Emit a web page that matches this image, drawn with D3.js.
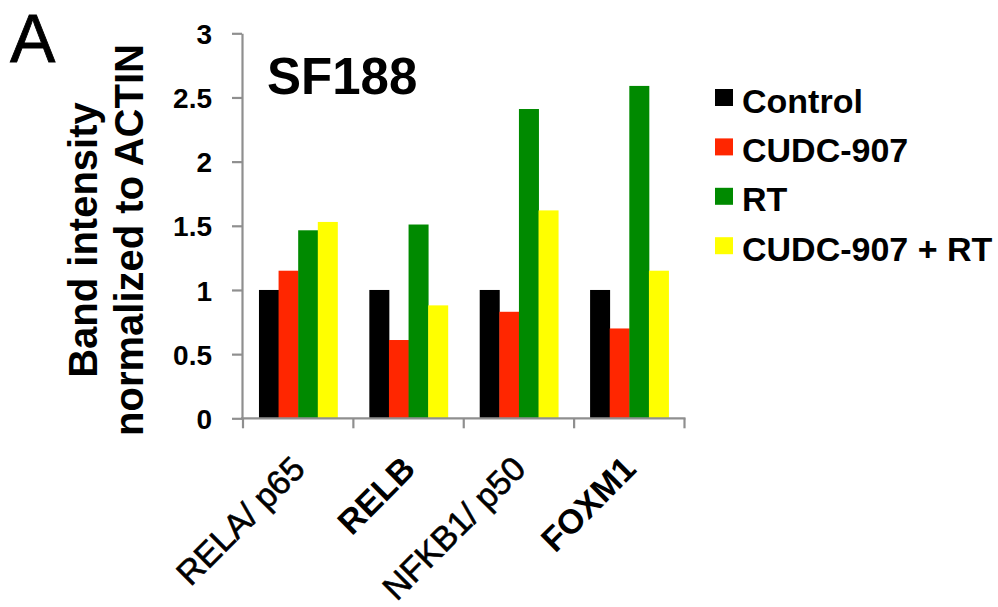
<!DOCTYPE html>
<html>
<head>
<meta charset="utf-8">
<script src="https://cdn.jsdelivr.net/npm/d3@7"></script>
<style>
  html, body { margin: 0; padding: 0; background: #fff; }
  svg { display: block; font-family: "Liberation Sans", Arial, Helvetica, sans-serif; }
</style>
</head>
<body>
<svg id="chart" width="998" height="607"></svg>
<script>
// ---- data ----
const categories = ["RELA/ p65", "RELB", "NFKB1/ p50", "FOXM1"];
const categoryBold = [false, true, false, true];
const seriesNames = ["Control", "CUDC-907", "RT", "CUDC-907 + RT"];
const seriesColors = ["#000000", "#ff2600", "#008a00", "#ffff00"];
const controlValues = [1, 1, 1, 1];
const cudcValues = [1.15, 0.61, 0.83, 0.70];
const rtValues = [1.465, 1.51, 2.41, 2.59];
const comboValues = [1.53, 0.88, 1.62, 1.15];
const yTicks = [0, 0.5, 1, 1.5, 2, 2.5, 3];
const yTickLabels = ["0", "0.5", "1", "1.5", "2", "2.5", "3"];
const yTitleLines = ["Band intensity", "normalized to ACTIN"];
const chartTitle = "SF188";
const panelLabel = "A";

const seriesValues = [controlValues, cudcValues, rtValues, comboValues];

// ---- layout ----
const svg = d3.select("#chart");
const plot = { left: 243, right: 684.5, top: 33.3, bottom: 418.3 };
const axisColor = "#8f8f8f";

const x = d3.scaleBand().domain(categories).range([plot.left, plot.right]).paddingInner(0).paddingOuter(0);
const xs = d3.scaleBand().domain(seriesNames).range([0, x.bandwidth()]).paddingInner(0).paddingOuter(0.814);
const y = d3.scaleLinear().domain([0, 3]).range([plot.bottom, plot.top]);

// bars
const rows = [];
categories.forEach((c, ci) => {
  seriesNames.forEach((s, si) => rows.push({ c, s, si, v: seriesValues[si][ci] }));
});
svg.append("g").selectAll("rect").data(rows).join("rect")
  .attr("x", d => x(d.c) + xs(d.s))
  .attr("width", xs.bandwidth() + 0.4)
  .attr("y", d => y(d.v))
  .attr("height", d => y(0) - y(d.v))
  .attr("fill", d => seriesColors[d.si]);

// y axis
const yAxis = svg.append("g")
  .attr("transform", `translate(${plot.left - 1},0)`)
  .call(d3.axisLeft(y).tickValues(yTicks).tickFormat((d, i) => yTickLabels[i]).tickSize(10).tickSizeOuter(0).tickPadding(20));
yAxis.select(".domain").attr("stroke", axisColor).attr("stroke-width", 2.2);
yAxis.selectAll(".tick line").attr("stroke", axisColor).attr("stroke-width", 2.2);
yAxis.selectAll(".tick text")
  .attr("fill", "#000").attr("font-size", 28).attr("font-weight", "bold")
  .attr("font-family", "'Liberation Sans', Arial, sans-serif").attr("dy", "0.36em");

// x axis line and ticks at category boundaries
const bounds = categories.map(c => x(c)).concat([x.range()[1]]);
const xAxisG = svg.append("g");
xAxisG.append("line")
  .attr("x1", plot.left - 2).attr("x2", plot.right + 1)
  .attr("y1", plot.bottom).attr("y2", plot.bottom)
  .attr("stroke", axisColor).attr("stroke-width", 2.2);
xAxisG.selectAll("line.tk").data(bounds).join("line").attr("class", "tk")
  .attr("x1", d => d).attr("x2", d => d)
  .attr("y1", plot.bottom).attr("y2", plot.bottom + 10)
  .attr("stroke", axisColor).attr("stroke-width", 2.2);

// x labels
svg.append("g").selectAll("text").data(categories).join("text")
  .attr("transform", d => `translate(${x(d) + x.bandwidth() / 2},${plot.bottom + 44}) rotate(-45)`)
  .attr("text-anchor", "end")
  .attr("dy", "0.36em")
  .attr("font-size", 34)
  .attr("font-weight", (d, i) => categoryBold[i] ? "bold" : "normal")
  .attr("stroke", (d, i) => categoryBold[i] ? "none" : "#000")
  .attr("stroke-width", 0.6)
  .text(d => d);

// y title
const yt = svg.append("text")
  .attr("transform", "translate(97,240) rotate(-90)")
  .attr("text-anchor", "middle")
  .attr("font-size", 40).attr("font-weight", "bold");
yt.selectAll("tspan").data(yTitleLines).join("tspan")
  .attr("x", 0).attr("dy", (d, i) => i === 0 ? 0 : 46)
  .text(d => d);

// title
svg.append("text").attr("x", 267).attr("y", 94)
  .attr("font-size", 51).attr("font-weight", "bold").text(chartTitle);

// panel label
svg.append("text").attr("x", 10).attr("y", 62)
  .attr("font-size", 68).attr("stroke", "#000").attr("stroke-width", 0.8).text(panelLabel);

// legend
const leg = svg.append("g").attr("transform", "translate(715,89)");
const li = leg.selectAll("g").data(seriesNames).join("g")
  .attr("transform", (d, i) => `translate(0,${i * 49.4})`);
li.append("rect").attr("width", 18).attr("height", 17)
  .attr("fill", (d, i) => seriesColors[i]);
li.append("text").attr("x", 27).attr("y", 23.5)
  .attr("font-size", 34).attr("font-weight", "bold").text(d => d);
</script>
</body>
</html>
